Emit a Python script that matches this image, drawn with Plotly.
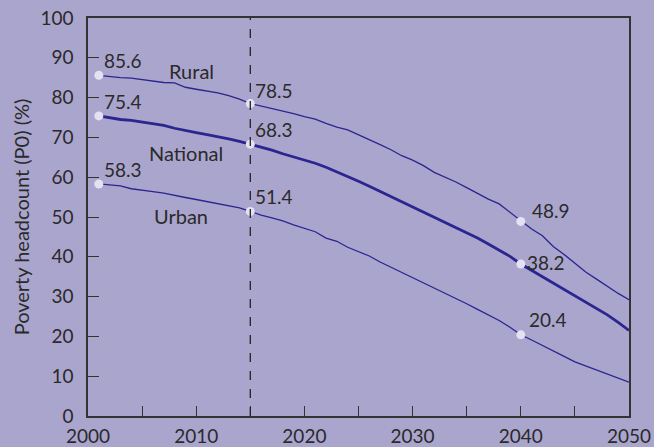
import plotly.graph_objects as go

years = list(range(2001, 2051))

rural = [85.6, 85.3, 85.0, 84.9, 84.5, 84.1, 83.8, 83.7, 82.6, 82.1,
         81.7, 81.2, 80.5, 79.6, 78.5, 77.9, 77.2, 76.7, 76.0, 75.2,
         74.6, 73.5, 72.6, 71.9, 70.7, 69.4, 68.2, 66.9, 65.4, 64.3,
         62.9, 61.2, 60.1, 58.8, 57.4, 55.9, 54.5, 53.3, 51.2, 48.9,
         47.0, 45.3, 42.6, 40.6, 38.4, 36.2, 34.4, 32.5, 30.8, 29.2]

national = [75.4, 75.0, 74.5, 74.3, 73.9, 73.4, 73.0, 72.3, 71.7, 71.2,
            70.7, 70.2, 69.6, 69.0, 68.3, 67.5, 66.8, 65.9, 65.1, 64.2,
            63.5, 62.5, 61.4, 60.3, 59.0, 57.7, 56.4, 55.1, 53.8, 52.7,
            51.2, 49.9, 48.7, 47.4, 46.1, 44.7, 43.2, 41.7, 40.1, 38.2,
            36.6, 35.2, 33.5, 31.9, 30.3, 28.8, 27.0, 25.4, 23.5, 21.5]

urban = [58.3, 58.1, 57.8, 57.1, 56.8, 56.4, 56.0, 55.4, 54.9, 54.4,
         53.9, 53.4, 52.8, 52.3, 51.4, 50.5, 49.8, 49.0, 48.0, 47.2,
         46.3, 44.7, 43.9, 42.4, 41.3, 40.2, 38.7, 37.4, 36.0, 34.8,
         33.6, 32.3, 31.0, 29.7, 28.2, 26.8, 25.4, 24.0, 22.3, 20.4,
         19.1, 17.8, 16.5, 15.0, 13.6, 12.6, 11.6, 10.5, 9.6, 8.5]

marked_years = [2001, 2015, 2040]
series_names = ["Rural", "National", "Urban"]
name_label_x = [2009.6, 2009.1, 2008.6]
name_label_y = [86.6, 66.0, 50.3]
x_tick_vals = list(range(2000, 2051, 5))
x_tick_text = [str(v) if v % 10 == 0 else "" for v in x_tick_vals]
y_tick_vals = list(range(0, 101, 10))

BG = "#aaa5cd"
LINE = "#2b2590"
MARK = "#e4e2f2"
TXT = "#2a2a2a"
FONT = "Lato"
FS = 19

fig = go.Figure()
series = [rural, national, urban]
widths = [1.3, 2.8, 1.3]
for vals, w, nm in zip(series, widths, series_names):
    fig.add_trace(go.Scatter(x=years, y=vals, mode="lines",
                             line=dict(color=LINE, width=w), name=nm,
                             showlegend=False))

# marked points
for vals in series:
    mx = marked_years
    my = [vals[years.index(y)] for y in mx]
    fig.add_trace(go.Scatter(x=mx, y=my, mode="markers",
                             marker=dict(color=MARK, size=9),
                             showlegend=False))

# value labels
shifts = {
    (0, 2001): (3, 1), (0, 2015): (3, 0), (0, 2040): (9, -3),
    (1, 2001): (3, 1), (1, 2015): (3, 1), (1, 2040): (4, -12),
    (2, 2001): (3, 1), (2, 2015): (3, 1), (2, 2040): (6, 2),
}
for i, vals in enumerate(series):
    for y in marked_years:
        v = vals[years.index(y)]
        xs, ys = shifts[(i, y)]
        fig.add_annotation(x=y, y=v, text=f"{v:.1f}", showarrow=False,
                           xanchor="left", yanchor="bottom",
                           xshift=xs, yshift=ys,
                           font=dict(family=FONT, size=FS, color=TXT))

for nm, lx, ly in zip(series_names, name_label_x, name_label_y):
    fig.add_annotation(x=lx, y=ly, text=nm, showarrow=False,
                       xanchor="center", yanchor="middle",
                       font=dict(family=FONT, size=20, color=TXT))

fig.add_shape(type="line", x0=2015, x1=2015, y0=0, y1=100,
              xref="x", yref="y", line=dict(color="#222222", width=1.3, dash="dash"))

fig.update_xaxes(range=[2000, 2050], tickvals=x_tick_vals, ticktext=x_tick_text,
                 ticks="inside", ticklen=10, tickwidth=1.3, tickcolor="#333333",
                 showline=True, linecolor="#333333", linewidth=1.5, mirror=True,
                 showgrid=False, zeroline=False, ticklabelstandoff=2, automargin=False,
                 tickfont=dict(family=FONT, size=FS, color=TXT))
fig.update_yaxes(range=[0, 100], tickvals=y_tick_vals,
                 ticks="inside", ticklen=11, tickwidth=1.3, tickcolor="#333333",
                 showline=True, linecolor="#333333", linewidth=1.5, mirror=True,
                 showgrid=False, zeroline=False, ticklabelstandoff=9, automargin=False,
                 tickfont=dict(family=FONT, size=FS, color=TXT),
                 title=dict(text="Poverty headcount (P0) (%)", standoff=5,
                            font=dict(family=FONT, size=20, color=TXT)))

fig.update_layout(width=654, height=447, paper_bgcolor=BG, plot_bgcolor=BG,
                  margin=dict(l=88, r=25, t=18, b=31), showlegend=False)

fig.write_html("out.html", config={"displayModeBar": False},
               post_script="document.body.style.margin='0';document.body.style.background='" + BG + "';")
